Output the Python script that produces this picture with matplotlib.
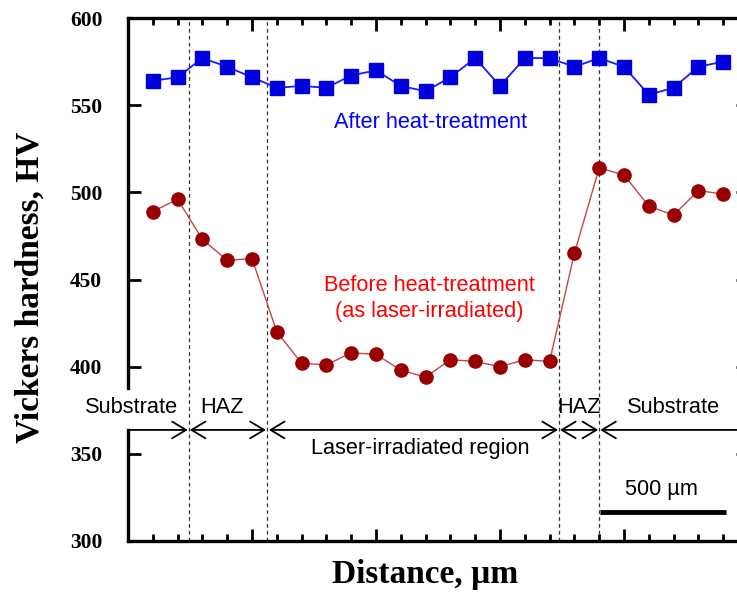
import matplotlib
matplotlib.use("Agg")
import matplotlib.pyplot as plt
import numpy as np

# data
positions = list(range(1, 25))
after_ht = [564, 566, 577, 572, 566, 560, 561, 560, 567, 570, 561, 558,
            566, 577, 561, 577, 577, 572, 577, 572, 556, 560, 572, 575]
before_ht = [489, 496, 473, 461, 462, 420, 402, 401, 408, 407, 398, 394,
             404, 403, 400, 404, 403, 465, 514, 510, 492, 487, 501, 499]
boundaries = [2.45, 5.6, 17.38, 19.0]
yticks = [300, 350, 400, 450, 500, 550, 600]

fig = plt.figure(figsize=(7.37, 5.92), dpi=100)
ax = fig.add_axes([128/737, 51/592, 620/737, 523/592])

serif = ['Liberation Serif', 'DejaVu Serif']
sans = ['Liberation Sans', 'DejaVu Sans']

ax.plot(positions, after_ht, '-', color='#1a1aff', lw=1.3, zorder=3)
ax.plot(positions, after_ht, 's', color='#0000dd', ms=10.5, mec='#0000dd', zorder=4)
ax.plot(positions, before_ht, '-', color='#c04848', lw=1.0, zorder=3)
ax.plot(positions, before_ht, 'o', color='#990000', ms=9.5, mec='#990000', zorder=4)

ax.set_xlim(0, 25)
ax.set_ylim(300, 600)

for b in boundaries:
    ax.axvline(b, color='#333333', lw=0.9, ls=(0, (3, 2.5)), zorder=1)

# spines
for s in ['top', 'right', 'bottom']:
    ax.spines[s].set_linewidth(2.4)
ax.spines['left'].set_visible(False)
tr = ax.get_yaxis_transform()
ax.plot([0, 0], [600, 388], color='black', lw=2.4, transform=tr, clip_on=False,
        solid_capstyle='projecting', zorder=5)
ax.plot([0, 0], [363.7, 300], color='black', lw=2.4, transform=tr, clip_on=False,
        solid_capstyle='projecting', zorder=5)

ax.set_yticks(yticks)
ax.set_yticklabels([str(v) for v in yticks], fontfamily=serif, fontweight='bold', fontsize=15.5)
ax.set_xticks(np.arange(0, 26, 5))
ax.set_xticks(np.arange(0, 26, 1), minor=True)
ax.tick_params(axis='x', which='both', labelbottom=False, top=True, direction='in')
ax.tick_params(axis='x', which='major', length=9, width=2)
ax.tick_params(axis='x', which='minor', length=5, width=2)
ax.tick_params(axis='y', which='major', direction='in', length=9, width=2, right=True, pad=18.5)

fig.text(30/737, 1 - 287/592, 'Vickers hardness, HV', rotation=90, ha='center', va='center',
         fontfamily=serif, fontweight='bold', fontsize=24)
fig.text(425/737, 1 - 574/592, 'Distance, \u00b5m', ha='center', va='center',
         fontfamily=serif, fontweight='bold', fontsize=24)

# region arrows
ya = 363.7
def arr(x0, x1, style):
    ax.annotate('', xy=(x1, ya), xytext=(x0, ya),
                arrowprops=dict(arrowstyle=style + ',head_length=0.5,head_width=0.3',
                                mutation_scale=20, lw=1.3, color='black',
                                shrinkA=0, shrinkB=0), zorder=5)
arr(0, boundaries[0] - 0.04, '->')
arr(boundaries[0] + 0.04, boundaries[1] - 0.04, '<->')
arr(boundaries[1] + 0.08, boundaries[2] - 0.04, '<->')
arr(boundaries[2] + 0.04, boundaries[3] - 0.04, '<->')
arr(25, boundaries[3] + 0.04, '->')

fs = 15.7
ax.text(0.14, 376.3, 'Substrate', ha='center', va='center', fontsize=fs, fontfamily=sans, clip_on=False)
ax.text(3.78, 376.3, 'HAZ', ha='center', va='center', fontsize=fs, fontfamily=sans)
ax.text(11.8, 353.3, 'Laser-irradiated region', ha='center', va='center', fontsize=fs, fontfamily=sans)
ax.text(18.19, 376.3, 'HAZ', ha='center', va='center', fontsize=fs, fontfamily=sans)
ax.text(22.0, 376.3, 'Substrate', ha='center', va='center', fontsize=fs, fontfamily=sans)

ax.text(12.2, 539.8, 'After heat-treatment', ha='center', va='center', fontsize=fs,
        fontfamily=sans, color='#0000ff')
ax.text(12.15, 446.8, 'Before heat-treatment', ha='center', va='center', fontsize=fs,
        fontfamily=sans, color='#ff0000')
ax.text(12.15, 431.4, '(as laser-irradiated)', ha='center', va='center', fontsize=fs,
        fontfamily=sans, color='#ff0000')

# scale bar
ax.plot([19.05, 24.1], [316.6, 316.6], color='black', lw=3.5, solid_capstyle='butt', zorder=5)
ax.text(21.5, 329.3, '500 \u00b5m', ha='center', va='center', fontsize=fs, fontfamily=sans)

fig.savefig('out.png', dpi=100)
